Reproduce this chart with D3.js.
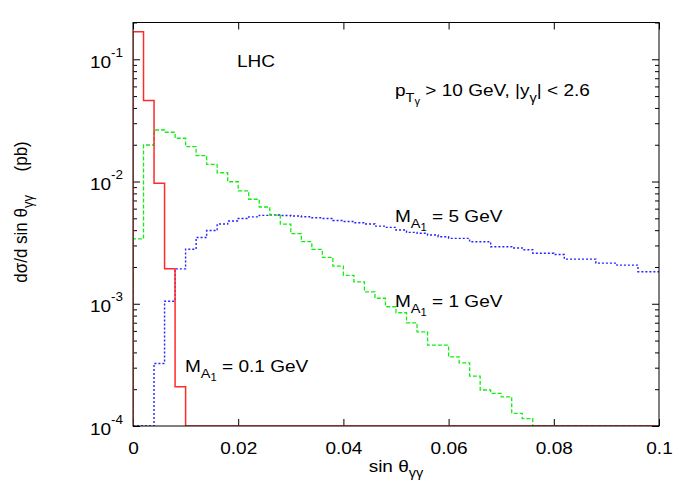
<!DOCTYPE html>
<html><head><meta charset="utf-8">
<script src="https://cdn.jsdelivr.net/npm/d3@7"></script>
<style>
body{margin:0;background:#fff}
svg{display:block}
text{font-family:"Liberation Sans",Arial,Helvetica,sans-serif;fill:#000}
</style>
</head><body>
<svg id="c" width="692" height="485"></svg>
<script>
// ---- data (bin width 0.002 in sin theta, 50 bins from 0 to 0.1) ----
const binWidth = 0.002;
const nBins = 50;
const xTicks = [0, 0.02, 0.04, 0.06, 0.08, 0.1];
const xTickLabels = ["0", "0.02", "0.04", "0.06", "0.08", "0.1"];
const yMajorTicks = [1e-4, 1e-3, 1e-2, 1e-1];
const yTickExponents = ["-4", "-3", "-2", "-1"];

// M_A1 = 0.1 GeV (red, solid)
const red = [0.168, 0.0461, 0.00966, 0.00193, 0.000209,
  0,0,0,0,0, 0,0,0,0,0, 0,0,0,0,0, 0,0,0,0,0, 0,0,0,0,0, 0,0,0,0,0, 0,0,0,0,0, 0,0,0,0,0];
// M_A1 = 1 GeV (green, dashed)
const green = [0.00339, 0.0199, 0.0264, 0.0253, 0.0226, 0.0193, 0.0163, 0.0138, 0.0118, 0.00996,
  0.00839, 0.00716, 0.00619, 0.00532, 0.00449, 0.00375, 0.00322, 0.00279, 0.00240, 0.00203,
  0.00171, 0.00151, 0.00125, 0.00111, 0.000945, 0.000844, 0.000699, 0.000590, 0.000459, 0.000459,
  0.000368, 0.000329, 0.000256, 0.000197, 0.000185, 0.000173, 0.000127, 0.000115, 0, 0,
  0,0,0,0,0, 0,0,0,0,0];
// M_A1 = 5 GeV (blue, dotted)
const blue = [0, 0, 0.000325, 0.00105, 0.00193, 0.00279, 0.00348, 0.00397, 0.00449, 0.00475,
  0.00498, 0.00514, 0.00529, 0.00532, 0.00527, 0.00522, 0.00515, 0.00505, 0.00498, 0.00480,
  0.00471, 0.00460, 0.00449, 0.00432, 0.00422, 0.00401, 0.00384, 0.00377, 0.00365, 0.00353,
  0.00343, 0.00343, 0.00322, 0.00322, 0.00293, 0.00293, 0.00286, 0.00277, 0.00259, 0.00259,
  0.00253, 0.00232, 0.00232, 0.00232, 0.00215, 0.00215, 0.00207, 0.00207, 0.00183, 0.00183];

// ---- layout ----
const L = 133, R = 659, T = 22.5, B = 426;
const SX = 1.12; // horizontal text stretch seen in the reference
const FS = 17;
const svg = d3.select("#c");

const x = d3.scaleLinear().domain([0, 0.1]).range([L, R]);
const y = d3.scaleLog().domain([1e-4, 0.2]).range([B, T]).clamp(true);
const yPos = v => v > 0 ? y(v) : B;

svg.append("defs").append("clipPath").attr("id", "clip")
  .append("rect").attr("x", L).attr("y", T).attr("width", R - L).attr("height", B - T);

// ---- axes ----
const minors = [];
[1e-4, 1e-3, 1e-2, 1e-1].forEach(d => { for (let k = 2; k <= 9; k++) { const v = d * k; if (v <= 0.2) minors.push(v); } });

function styleAxis(g) {
  g.select(".domain").remove();
  g.selectAll("line").attr("stroke", "#000").attr("stroke-width", 1);
}
svg.append("g").attr("transform", `translate(0,${B})`)
  .call(d3.axisBottom(x).tickValues(xTicks).tickSize(-7).tickPadding(16).tickFormat((d, i) => xTickLabels[i]))
  .call(styleAxis)
  .call(g => g.selectAll("text").attr("font-size", FS).attr("font-family", null).attr("fill", "#000")
        .attr("transform", `scale(${SX},1)`));
svg.append("g").attr("transform", `translate(0,${T})`)
  .call(d3.axisTop(x).tickValues(xTicks).tickSize(-7).tickFormat("")).call(styleAxis);
svg.append("g").attr("transform", `translate(${L},0)`)
  .call(d3.axisLeft(y).tickValues(yMajorTicks).tickSize(-7).tickFormat("")).call(styleAxis);
svg.append("g").attr("transform", `translate(${L},0)`)
  .call(d3.axisLeft(y).tickValues(minors).tickSize(-4).tickFormat("")).call(styleAxis);
svg.append("g").attr("transform", `translate(${R},0)`)
  .call(d3.axisRight(y).tickValues(yMajorTicks).tickSize(-7).tickFormat("")).call(styleAxis);
svg.append("g").attr("transform", `translate(${R},0)`)
  .call(d3.axisRight(y).tickValues(minors).tickSize(-4).tickFormat("")).call(styleAxis);

// y tick labels 10^n
yMajorTicks.forEach((v, i) => {
  const t = svg.append("g").attr("transform", `translate(123,${y(v) + 8.5}) scale(${SX},1)`)
    .append("text").attr("text-anchor", "end").attr("font-size", FS);
  t.append("tspan").text("10");
  t.append("tspan").attr("font-size", 12).attr("dy", -11).text(yTickExponents[i]);
});

// ---- histograms ----
function stepPoints(vals) {
  const pts = [[0, 0]];
  vals.forEach((v, i) => { pts.push([i * binWidth, v]); pts.push([(i + 1) * binWidth, v]); });
  pts.push([nBins * binWidth, vals[vals.length - 1]]);
  return pts;
}
const line = d3.line().x(d => x(d[0])).y(d => yPos(d[1]));
const plot = svg.append("g").attr("clip-path", "url(#clip)");
plot.append("path").attr("d", line(stepPoints(blue))).attr("fill", "none")
  .attr("stroke", "#2222ff").attr("stroke-width", 1.4).attr("stroke-dasharray", "2,2");
plot.append("path").attr("d", line(stepPoints(green))).attr("fill", "none")
  .attr("stroke", "#11ee11").attr("stroke-width", 1.3).attr("stroke-dasharray", "4,2");
plot.append("path").attr("d", line(stepPoints(red))).attr("fill", "none")
  .attr("stroke", "#ff2a2a").attr("stroke-width", 1.5);

// frame
svg.append("rect").attr("x", L).attr("y", T).attr("width", R - L).attr("height", B - T)
  .attr("fill", "none").attr("stroke", "#000").attr("stroke-width", 1);

// ---- text annotations ----
function label(xp, yp, parts, anchor, rot) {
  const g = svg.append("g").attr("transform", `translate(${xp},${yp}) scale(${SX},1)` + (rot ? ` rotate(${rot})` : ""));
  const t = g.append("text").attr("text-anchor", anchor || "start").attr("font-size", FS)
    .style("white-space", "pre");
  parts.forEach(p => {
    const s = t.append("tspan").text(p[0]);
    if (p[1]) s.attr("font-size", p[1]);
    if (p[2]) s.attr("dy", p[2]);
  });
  return t;
}
label(237, 66.5, [["LHC"]]);
label(395, 96, [["p"], ["T", 13, 6], ["γ", 10, 3], [" > 10 GeV, |y", FS, -9], ["γ", 13, 6], ["| < 2.6", FS, -6]]);
label(395, 222, [["M"], ["A", 13, 6], ["1", 10, 3], [" = 5 GeV", FS, -9]]);
label(395, 307, [["M"], ["A", 13, 6], ["1", 10, 3], [" = 1 GeV", FS, -9]]);
label(185, 371.5, [["M"], ["A", 13, 6], ["1", 10, 3], [" = 0.1 GeV", FS, -9]]);

// axis titles
label(396, 472, [["sin θ"], ["γγ", 13, 5]], "middle");
const yl = svg.append("g").attr("transform", `translate(27,212) scale(${SX},1) rotate(-90)`)
  .append("text").attr("text-anchor", "middle").attr("font-size", FS).style("white-space", "pre");
yl.append("tspan").text("dσ/d sin θ");
yl.append("tspan").attr("font-size", 13).attr("dy", 5).text("γγ");
yl.append("tspan").attr("dy", -5).text("     (pb)");
</script>
</body></html>
